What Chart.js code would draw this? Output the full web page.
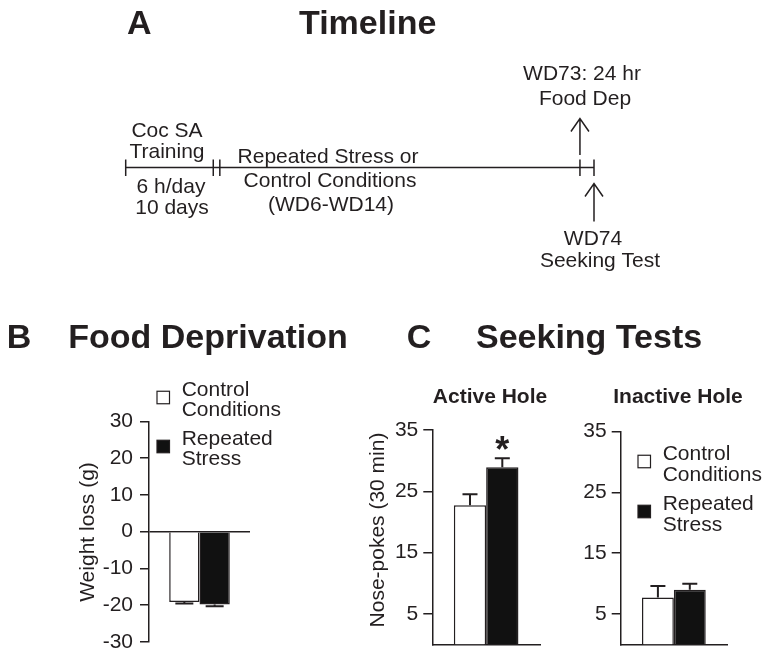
<!DOCTYPE html>
<html>
<head>
<meta charset="utf-8">
<script src="https://cdn.jsdelivr.net/npm/chart.js@4.4.1/dist/chart.umd.min.js"></script>
<style>
  body { margin: 0; background: #fff; }
  #figura { position: relative; width: 770px; height: 662px; }
  #figura canvas { position: absolute; left: 0; top: 0; }
</style>
</head>
<body>
<div id="figura">
  <canvas id="linea-tiempo" width="770" height="662"></canvas>
  <canvas id="grafico-comida" width="770" height="662"></canvas>
  <canvas id="grafico-activo" width="770" height="662"></canvas>
  <canvas id="grafico-inactivo" width="770" height="662"></canvas>
</div>
<script>
// grupos
const grupos = ['Control Conditions', 'Repeated Stress'];
const gruposLineas = [['Control', 'Conditions'], ['Repeated', 'Stress']];

// B - perdida de peso (g)
const pesoMedia = [-19.1, -19.8];
const pesoError = [0.4, 0.5];
const pesoTicks = [-30, -20, -10, 0, 10, 20, 30];

// C - nose-pokes (30 min)
const activoMedia = [22.7, 28.9];
const activoError = [1.8, 1.5];
const inactivoMedia = [7.7, 9.0];
const inactivoError = [1.9, 1.0];
const pokesTicks = [5, 15, 25, 35];

// A - linea de tiempo (posiciones relativas 0-100)
const tlMarcas = [0, 18.7, 20.1, 97.0, 100];
const tlFlechas = [97.0, 100];
const tlLadoFlecha = [-1, 1]; // -1 arriba de la linea, 1 abajo

const TINTA = '#231f20';
const FUENTE = "'Liberation Sans', Arial, Helvetica, sans-serif";
const rellenos = ['#ffffff', '#111111'];

Chart.defaults.font.family = FUENTE;
Chart.defaults.color = TINTA;

function texto(ctx, s, x, y, size, bold, align) {
    ctx.font = (bold ? 'bold ' : '') + size + 'px ' + FUENTE;
    ctx.textAlign = align || 'left';
    ctx.textBaseline = 'alphabetic';
    ctx.fillStyle = TINTA;
    ctx.fillText(s, x, y);
}

function textoVertical(ctx, s, x, y, size) {
    ctx.save();
    ctx.translate(x, y);
    ctx.rotate(-Math.PI / 2);
    texto(ctx, s, 0, 0, size, false, 'center');
    ctx.restore();
}

// ---------- A: Timeline ----------
const pluginLineaTiempo = {
    id: 'lineaTiempo',
    afterDatasetsDraw(chart) {
        const ctx = chart.ctx;
        const x = chart.scales.x;
        const y0 = chart.scales.y.getPixelForValue(0);
        ctx.save();
        ctx.strokeStyle = TINTA;
        ctx.lineWidth = 1.5;

        tlMarcas.forEach(function (v) {
            const px = x.getPixelForValue(v);
            ctx.beginPath();
            ctx.moveTo(px, y0 - 8);
            ctx.lineTo(px, y0 + 8.5);
            ctx.stroke();
        });

        tlFlechas.forEach(function (v, i) {
            const px = x.getPixelForValue(v);
            const punta = tlLadoFlecha[i] < 0 ? y0 - 49 : y0 + 16;
            const cola = tlLadoFlecha[i] < 0 ? y0 - 12.5 : y0 + 54;
            ctx.beginPath();
            ctx.moveTo(px, cola);
            ctx.lineTo(px, punta);
            ctx.moveTo(px - 9, punta + 13);
            ctx.lineTo(px, punta);
            ctx.lineTo(px + 9, punta + 13);
            ctx.stroke();
        });

        texto(ctx, 'A', 127, 33.5, 34, true);
        texto(ctx, 'Timeline', 299, 33.5, 34, true);

        texto(ctx, 'Coc SA', 167, 137, 21, false, 'center');
        texto(ctx, 'Training', 167, 157.5, 21, false, 'center');
        texto(ctx, '6 h/day', 171, 193, 21, false, 'center');
        texto(ctx, '10 days', 172, 214, 21, false, 'center');
        texto(ctx, 'Repeated Stress or', 328, 163, 21, false, 'center');
        texto(ctx, 'Control Conditions', 330, 187, 21, false, 'center');
        texto(ctx, '(WD6-WD14)', 331, 211, 21, false, 'center');
        texto(ctx, 'WD73: 24 hr', 582, 80, 21, false, 'center');
        texto(ctx, 'Food Dep', 585, 105, 21, false, 'center');
        texto(ctx, 'WD74', 593, 245, 21, false, 'center');
        texto(ctx, 'Seeking Test', 600, 267, 21, false, 'center');
        ctx.restore();
    }
};

new Chart(document.getElementById('linea-tiempo'), {
    type: 'line',
    data: {
        datasets: [{
            data: [{ x: tlMarcas[0], y: 0 }, { x: tlMarcas[tlMarcas.length - 1], y: 0 }],
            borderColor: TINTA,
            borderWidth: 1.5,
            pointRadius: 0
        }]
    },
    options: {
        responsive: false,
        animation: false,
        events: [],
        layout: { padding: { left: 125.7, right: 770 - 594, top: 117, bottom: 662 - 218 } },
        scales: {
            x: { type: 'linear', min: 0, max: 100, display: false },
            y: { min: -1, max: 1, display: false }
        },
        plugins: { legend: { display: false }, tooltip: { enabled: false } }
    },
    plugins: [pluginLineaTiempo]
});

// ---------- B y C: barras ----------
function pluginExtras(estilo) {
    return {
        id: 'extras',
        afterDatasetsDraw(chart) {
            const ctx = chart.ctx;
            const y = chart.scales.y;
            ctx.save();
            ctx.strokeStyle = TINTA;
            ctx.lineWidth = 2;

            // barras de error
            chart.data.datasets.forEach(function (ds, i) {
                const barra = chart.getDatasetMeta(i).data[0];
                const v = ds.data[0];
                const signo = v < 0 ? -1 : 1;
                const yFin = y.getPixelForValue(v + signo * ds.err);
                ctx.beginPath();
                ctx.moveTo(barra.x, barra.y);
                ctx.lineTo(barra.x, yFin);
                ctx.moveTo(barra.x - estilo.cap / 2, yFin);
                ctx.lineTo(barra.x + estilo.cap / 2, yFin);
                ctx.stroke();

                if (estilo.asterisco === i) {
                    texto(ctx, '*', barra.x, yFin + 4, 36, true, 'center');
                }
            });

            // leyenda
            if (estilo.leyenda) {
                const L = estilo.leyenda;
                gruposLineas.forEach(function (lineas, i) {
                    const base = L.bases[i];
                    ctx.fillStyle = rellenos[i];
                    ctx.fillRect(L.x, base + 1.5 - 6.25, 12.5, 12.5);
                    ctx.lineWidth = 1.2;
                    ctx.strokeStyle = TINTA;
                    ctx.strokeRect(L.x, base + 1.5 - 6.25, 12.5, 12.5);
                    lineas.forEach(function (t, j) {
                        texto(ctx, t, L.tx, base + j * L.paso, 21, false);
                    });
                });
            }

            if (estilo.tituloEje) {
                textoVertical(ctx, estilo.tituloEje, estilo.ejeX, estilo.ejeY, 21);
            }
            if (estilo.subtitulo) {
                texto(ctx, estilo.subtitulo, estilo.subX, 403, 21, true, 'center');
            }
            if (estilo.letra) {
                texto(ctx, estilo.letra, estilo.letraX, 348, 34, true);
                texto(ctx, estilo.titulo, estilo.tituloX, 348, 34, true);
            }
            ctx.restore();
        }
    };
}

function crearBarras(id, medias, errores, ticks, yMin, yMax, area, estilo) {
    const ANCHO_EJE = 60;
    return new Chart(document.getElementById(id), {
        type: 'bar',
        data: {
            labels: [''],
            datasets: grupos.map(function (g, i) {
                return {
                    label: g,
                    data: [medias[i]],
                    err: errores[i],
                    backgroundColor: rellenos[i],
                    borderColor: TINTA,
                    borderWidth: 1.5,
                    barPercentage: 1,
                    categoryPercentage: 0.6
                };
            })
        },
        options: {
            responsive: false,
            animation: false,
            events: [],
            layout: {
                padding: {
                    left: area.left - ANCHO_EJE,
                    right: 770 - area.right,
                    top: area.top,
                    bottom: 662 - area.bottom
                }
            },
            plugins: { legend: { display: false }, tooltip: { enabled: false } },
            scales: {
                x: {
                    display: estilo.lineaX,
                    ticks: { display: false },
                    grid: { display: true, drawOnChartArea: false, drawTicks: false },
                    border: { display: true, color: TINTA, width: 1.5 },
                    afterFit: function (s) { s.height = 0; }
                },
                y: {
                    min: yMin,
                    max: yMax,
                    afterBuildTicks: function (s) {
                        s.ticks = ticks.map(function (v) { return { value: v }; });
                    },
                    afterFit: function (s) { s.width = ANCHO_EJE; },
                    ticks: { font: { size: 21 }, color: TINTA, padding: estilo.pad },
                    grid: {
                        drawOnChartArea: estilo.lineaCero,
                        color: function (c) {
                            return (estilo.lineaCero && c.tick && c.tick.value === 0) ? TINTA : 'rgba(0,0,0,0)';
                        },
                        tickColor: TINTA,
                        tickLength: 9,
                        lineWidth: 1.5
                    },
                    border: { display: true, color: TINTA, width: 1.5 }
                }
            }
        },
        plugins: [pluginExtras(estilo)]
    });
}

crearBarras('grafico-comida', pesoMedia, pesoError, pesoTicks, -30, 30,
    { left: 149, right: 250, top: 421.3, bottom: 642 },
    {
        lineaX: false, lineaCero: true, pad: 7, cap: 18,
        leyenda: { x: 157, tx: 181.7, bases: [396, 445], paso: 19.5 },
        tituloEje: 'Weight loss (g)', ejeX: 94, ejeY: 532,
        letra: 'B', letraX: 6.7, titulo: 'Food Deprivation', tituloX: 68.3
    });

crearBarras('grafico-activo', activoMedia, activoError, pokesTicks, 0, 35,
    { left: 432.3, right: 540, top: 430, bottom: 650.5 },
    {
        lineaX: true, lineaCero: false, pad: 5, cap: 15, asterisco: 1,
        tituloEje: 'Nose-pokes (30 min)', ejeX: 384, ejeY: 530,
        subtitulo: 'Active Hole', subX: 490,
        letra: 'C', letraX: 406.7, titulo: 'Seeking Tests', tituloX: 476
    });

crearBarras('grafico-inactivo', inactivoMedia, inactivoError, pokesTicks, 0, 35,
    { left: 620.7, right: 727, top: 431.7, bottom: 652 },
    {
        lineaX: true, lineaCero: false, pad: 5, cap: 15,
        leyenda: { x: 638, tx: 662.7, bases: [460, 510], paso: 21 },
        subtitulo: 'Inactive Hole', subX: 678
    });
</script>
</body>
</html>
